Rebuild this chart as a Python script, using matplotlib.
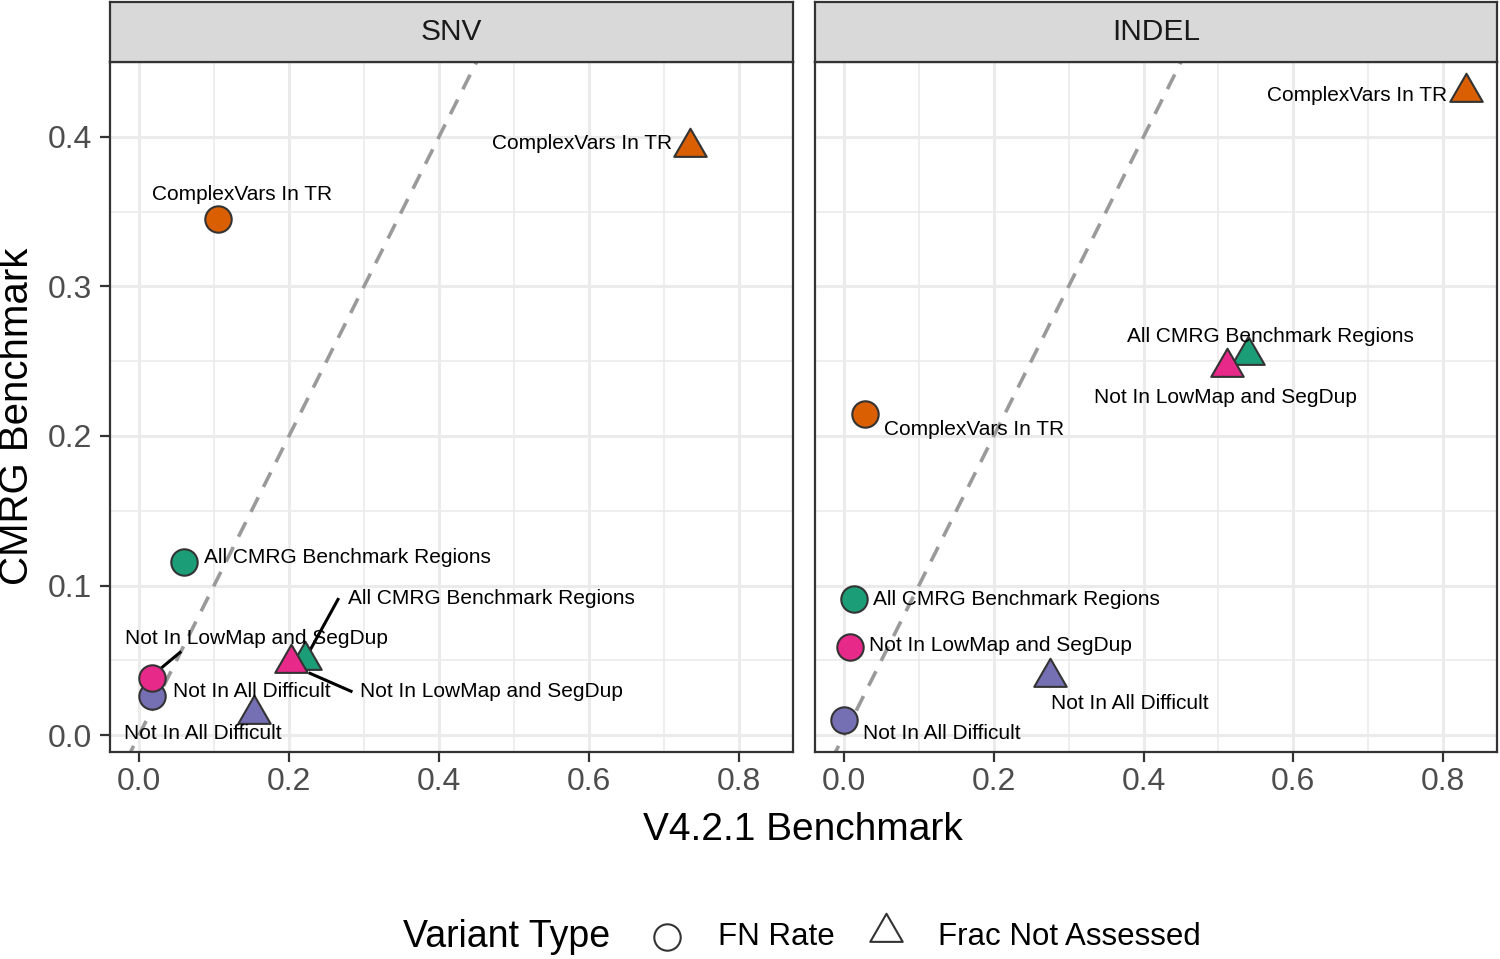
import numpy as np
import matplotlib.pyplot as plt
from matplotlib.lines import Line2D
from matplotlib.path import Path

plt.rcParams['font.family'] = ['Liberation Sans', 'DejaVu Sans']

# 数据
regions = ['All CMRG Benchmark Regions', 'ComplexVars In TR',
           'Not In All Difficult', 'Not In LowMap and SegDup']
colors = ['#1B9E77', '#D95F02', '#7570B3', '#E7298A']

panels = ['SNV', 'INDEL']
x_ticks = [0.0, 0.2, 0.4, 0.6, 0.8]
y_ticks = [0.0, 0.1, 0.2, 0.3, 0.4]

# V4.2.1 Benchmark (x) 与 CMRG Benchmark (y)
snv_fn_x = [0.060, 0.105, 0.017, 0.017]
snv_fn_y = [0.116, 0.345, 0.026, 0.038]
snv_na_x = [0.221, 0.735, 0.153, 0.203]
snv_na_y = [0.050, 0.393, 0.014, 0.048]
indel_fn_x = [0.013, 0.028, 0.000, 0.008]
indel_fn_y = [0.091, 0.215, 0.010, 0.059]
indel_na_x = [0.539, 0.831, 0.275, 0.511]
indel_na_y = [0.254, 0.430, 0.039, 0.246]

data = {
    'SNV': {'fn': (snv_fn_x, snv_fn_y), 'na': (snv_na_x, snv_na_y)},
    'INDEL': {'fn': (indel_fn_x, indel_fn_y), 'na': (indel_na_x, indel_na_y)},
}

# 标签相对点的偏移（模拟 ggrepel 的位置）
label_offsets = {
    'SNV': {
        'fn': [(0.2173, 0.0027), (0.0323, 0.0163), (0.1337, 0.0033), (0.139, 0.0267)],
        'na': [(0.2483, 0.0413), (-0.1443, 0.0023), (-0.0677, -0.0127), (0.2663, -0.0187)],
    },
    'INDEL': {
        'fn': [(0.2177, -0.0003), (0.1453, -0.011), (0.1307, -0.0087), (0.2013, 0.001)],
        'na': [(0.0303, 0.0127), (-0.1457, -0.0027), (0.1063, -0.0177), (-0.0017, -0.02)],
    },
}
# 连接线（相对点的起点、终点）
segments = {
    ('SNV', 'na', 0): ((0.007, 0.0067), (0.0443, 0.0407)),
    ('SNV', 'fn', 3): ((0.0123, 0.0067), (0.0377, 0.0173)),
    ('SNV', 'na', 3): ((0.025, -0.0067), (0.0797, -0.0187)),
}

W, H = 1500, 959
fig = plt.figure(figsize=(15, 9.59), dpi=100)

# 等边三角形标记（闭合路径）
tri = Path([(-1, -0.577), (1, -0.577), (0, 1.155), (-1, -0.577)],
           [Path.MOVETO, Path.LINETO, Path.LINETO, Path.CLOSEPOLY])
edge = '#333333'
panel_px = {'SNV': (110, 793), 'INDEL': (815, 1497)}
top_px, bot_px = 62, 752

for name in panels:
    l, r = panel_px[name]
    ax = fig.add_axes([l / W, 1 - bot_px / H, (r - l) / W, (bot_px - top_px) / H])
    ax.set_xlim(-0.0387, 0.872)
    ax.set_ylim(-0.0113, 0.4487)
    ax.set_xticks(x_ticks)
    ax.set_yticks(y_ticks)
    ax.set_xticks([0.1, 0.3, 0.5, 0.7], minor=True)
    ax.set_yticks([0.05, 0.15, 0.25, 0.35, 0.45], minor=True)
    ax.set_xticklabels([f'{v:.1f}' for v in x_ticks])
    ax.grid(True, which='major', color='#EBEBEB', lw=2.2, zorder=0)
    ax.grid(True, which='minor', color='#EBEBEB', lw=1.2, zorder=0)
    ax.set_axisbelow(True)
    ax.tick_params(which='major', direction='out', length=7, width=1.6, color=edge,
                   labelsize=23, labelcolor='#4D4D4D', pad=4)
    ax.tick_params(which='minor', length=0)
    ax.tick_params(axis='y', pad=6)
    if name == 'SNV':
        ax.set_yticklabels([f'{v:.1f}' for v in y_ticks])
    else:
        ax.set_yticklabels([])
        ax.tick_params(axis='y', which='both', length=0)
    for s in ax.spines.values():
        s.set_color(edge)
        s.set_linewidth(1.6)

    # y = x 参考线
    ax.plot([-0.1, 1], [-0.1, 1], color='#9A9A9A', lw=2.6, dashes=(4.5, 3.2), zorder=1)

    for kind, marker, ms in [('fn', 'o', 19), ('na', tri, 27)]:
        xs, ys = data[name][kind]
        for i in range(len(regions)):
            ax.plot(xs[i], ys[i], marker=marker, ms=ms, mfc=colors[i], mec=edge,
                    mew=1.5, ls='none', zorder=3 + i * 0.1)
            dx, dy = label_offsets[name][kind][i]
            ax.text(xs[i] + dx, ys[i] + dy, regions[i], ha='center', va='center',
                    fontsize=15, color='black', zorder=5)
            seg = segments.get((name, kind, i))
            if seg:
                (a, b), (c, d) = seg
                ax.plot([xs[i] + a, xs[i] + c], [ys[i] + b, ys[i] + d],
                        color='black', lw=2.2, zorder=2.5)

    # 分面标题条
    sax = fig.add_axes([l / W, 1 - 62 / H, (r - l) / W, 60 / H])
    sax.set_facecolor('#D9D9D9')
    sax.set_xticks([])
    sax.set_yticks([])
    for s in sax.spines.values():
        s.set_color(edge)
        s.set_linewidth(1.6)
    sax.text(0.5, 0.5, name, ha='center', va='center', fontsize=21.5, color='#1A1A1A',
             transform=sax.transAxes)

# 轴标题
fig.text(803 / W, 1 - 840 / H, 'V4.2.1 Benchmark', ha='center', va='baseline', fontsize=28)
fig.text(17 / W, 1 - 416 / H, 'CMRG Benchmark', ha='center', va='center',
         rotation=90, fontsize=29)

# 图例
ly = 1 - 937 / H
fig.text(403 / W, ly, 'Variant Type', ha='left', va='center', fontsize=27)
fig.add_artist(Line2D([667 / W], [ly], marker='o', ms=19, mfc='white', mec=edge,
                      mew=1.5, ls='none', transform=fig.transFigure))
fig.add_artist(Line2D([886 / W], [1 - 932 / H], marker=tri, ms=27, mfc='white', mec=edge,
                      mew=1.5, ls='none', transform=fig.transFigure))
fig.text(718 / W, ly, 'FN Rate', ha='left', va='center', fontsize=22.5)
fig.text(938 / W, ly, 'Frac Not Assessed', ha='left', va='center', fontsize=22.5)

fig.savefig('out.png', dpi=100, facecolor='white')
